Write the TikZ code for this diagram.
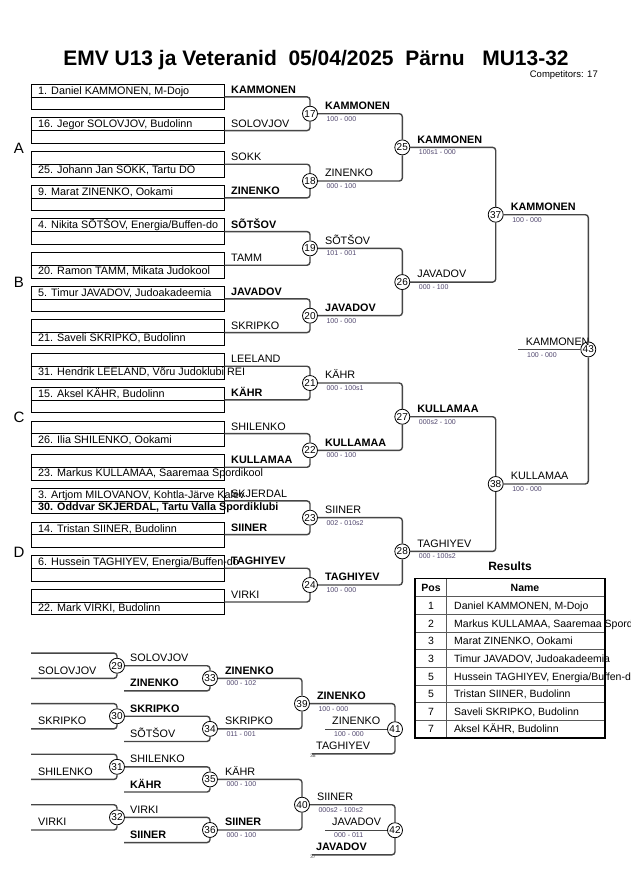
\documentclass[tikz,border=0pt]{standalone}
\usepackage{fontspec}
\setmainfont{Liberation Sans}
\usetikzlibrary{calc}
\definecolor{scorecol}{RGB}{80,70,110}
\definecolor{linecol}{RGB}{70,70,70}

\begin{document}
\begin{tikzpicture}[x=1pt,y=-1pt,
  bracket/.style={draw=linecol, line width=1.4pt, rounded corners=3pt},
  entrybox/.style={draw, line width=0.8pt, minimum width=193pt, minimum height=25.4pt, inner sep=0pt},
  match/.style={circle, draw, fill=white, line width=0.8pt, minimum size=15pt, inner sep=0pt, font=\fontsize{10}{10}\selectfont},
  lbl/.style={anchor=base west, inner sep=0pt, font=\fontsize{10.8}{12}\selectfont},
  scr/.style={anchor=base west, inner sep=0pt, text=scorecol, font=\fontsize{7}{8}\selectfont},
  tiny/.style={anchor=base west, inner sep=0pt, text=black!70, font=\fontsize{5}{5}\selectfont}]
\clip (0,0) rectangle (630,891);
\fill[white] (0,0) rectangle (630,891);

\node[anchor=base, inner sep=0pt, font=\fontsize{21}{24}\bfseries] (title) at (316,66) {EMV U13 ja Veteranid\ \ 05/04/2025\ \ Pärnu\ \ \ MU13-32};
\node[anchor=base east, inner sep=0pt, font=\fontsize{9.5}{10}\selectfont] (comp) at (598,77.5) {Competitors: 17};

\foreach \g [count=\j from 0] in {A,B,C,D}
  \node[font=\fontsize{15}{18}\selectfont] (pool\g) at (19,{147.9+134.67*\j}) {\g};

\foreach \k in {17,...,24} \node[match] (m\k) at (310,{113.7+67.33*(\k-17)}) {\k};
\foreach \k in {25,...,28} \node[match] (m\k) at (402.3,{147.4+134.67*(\k-25)}) {\k};
\node[match] (m37) at (495.7,214.7) {37};
\node[match] (m38) at (495.7,484) {38};
\node[match] (m43) at (588.3,349.4) {43};
\foreach \k in {29,...,32} \node[match] (m\k) at (117,{665.7+50.55*(\k-29)}) {\k};
\foreach \k in {33,...,36} \node[match] (m\k) at (210,{678.3+50.55*(\k-33)}) {\k};
\node[match] (m39) at (302,703.6) {39};
\node[match] (m40) at (302,804.7) {40};
\node[match] (m41) at (395,729.2) {41};
\node[match] (m42) at (395,830.2) {42};

\foreach \i/\up/\dn/\lab in {
  1/{1. Daniel KAMMONEN, M-Dojo}/{}/{\textbf{KAMMONEN}},
  2/{16. Jegor SOLOVJOV, Budolinn}/{}/{SOLOVJOV},
  3/{}/{25. Johann Jan SOKK, Tartu DO}/{SOKK},
  4/{9. Marat ZINENKO, Ookami}/{}/{\textbf{ZINENKO}},
  5/{4. Nikita SÕTŠOV, Energia/Buffen-do}/{}/{\textbf{SÕTŠOV}},
  6/{}/{20. Ramon TAMM, Mikata Judokool}/{TAMM},
  7/{5. Timur JAVADOV, Judoakadeemia}/{}/{\textbf{JAVADOV}},
  8/{}/{21. Saveli SKRIPKO, Budolinn}/{SKRIPKO},
  9/{}/{31. Hendrik LEELAND, Võru Judoklubi REI}/{LEELAND},
  10/{15. Aksel KÄHR, Budolinn}/{}/{\textbf{KÄHR}},
  11/{}/{26. Ilia SHILENKO, Ookami}/{SHILENKO},
  12/{}/{23. Markus KULLAMAA, Saaremaa Spordikool}/{\textbf{KULLAMAA}},
  13/{3. Artjom MILOVANOV, Kohtla-Järve Kalev}/{\textbf{30. Oddvar SKJERDAL, Tartu Valla Spordiklubi}}/{SKJERDAL},
  14/{14. Tristan SIINER, Budolinn}/{}/{\textbf{SIINER}},
  15/{6. Hussein TAGHIYEV, Energia/Buffen-do}/{}/{\textbf{TAGHIYEV}},
  16/{}/{22. Mark VIRKI, Budolinn}/{VIRKI}}{
  \pgfmathsetmacro\ym{96.9+33.67*(\i-1)}
  \pgfmathtruncatemacro\k{16+(\i+1)/2}
  \ifodd\i \def\sd{north}\else\def\sd{south}\fi
  \node[entrybox] (e\i) at (127.5,\ym) {};
  \draw[line width=0.8pt] (e\i.west) -- (e\i.east);
  \draw[bracket] (e\i.east) -| (m\k.\sd);
  \node[lbl] (u\i) at (38,\ym-2.6) {\up};
  \node[lbl] (d\i) at (38,\ym+9.4) {\dn};
  \node[lbl] (w\i) at (231,\ym-3.5) {\lab};
}

\foreach \k/\n/\sd/\lab/\rs in {
  17/25/north/{\textbf{KAMMONEN}}/{100 - 000},
  18/25/south/{ZINENKO}/{000 - 100},
  19/26/north/{SÕTŠOV}/{101 - 001},
  20/26/south/{\textbf{JAVADOV}}/{100 - 000},
  21/27/north/{KÄHR}/{000 - 100s1},
  22/27/south/{\textbf{KULLAMAA}}/{000 - 100},
  23/28/north/{SIINER}/{002 - 010s2},
  24/28/south/{\textbf{TAGHIYEV}}/{100 - 000},
  25/37/north/{\textbf{KAMMONEN}}/{100s1 - 000},
  26/37/south/{JAVADOV}/{000 - 100},
  27/38/north/{\textbf{KULLAMAA}}/{000s2 - 100},
  28/38/south/{TAGHIYEV}/{000 - 100s2},
  37/43/north/{\textbf{KAMMONEN}}/{100 - 000},
  38/43/south/{KULLAMAA}/{100 - 000},
  33/39/north/{\textbf{ZINENKO}}/{000 - 102},
  34/39/south/{SKRIPKO}/{011 - 001},
  35/40/north/{KÄHR}/{000 - 100},
  36/40/south/{\textbf{SIINER}}/{000 - 100},
  39/41/north/{\textbf{ZINENKO}}/{100 - 000},
  40/42/north/{SIINER}/{000s2 - 100s2}}{
  \draw[bracket] (m\k.east) -| (m\n.\sd);
  \node[lbl] (t\k) at ($(m\k.east)+(7,-4.3)$) {\lab};
  \node[scr] (r\k) at ($(m\k.east)+(8.5,7.5)$) {\rs};
}

\coordinate (f0) at (518,349.4);
\draw[bracket] (f0) -- (m43.west);
\node[lbl] (t43) at (525.7,345) {KAMMONEN};
\node[scr] (r43) at (527,357.2) {100 - 000};

\foreach \k/\n/\la/\lb/\lc in {
  29/33/{SOLOVJOV}/{SOLOVJOV}/{\textbf{ZINENKO}},
  30/34/{SKRIPKO}/{\textbf{SKRIPKO}}/{SÕTŠOV},
  31/35/{SHILENKO}/{SHILENKO}/{\textbf{KÄHR}},
  32/36/{VIRKI}/{VIRKI}/{\textbf{SIINER}}}{
  \coordinate (a\k) at ($(m\k)+(-86,-12.6)$);
  \coordinate (b\k) at ($(m\k)+(-86,12.6)$);
  \coordinate (c\n) at ($(m\n)+(-86,12.6)$);
  \draw[bracket] (a\k) -| (m\k.north);
  \draw[bracket] (b\k) -| (m\k.south);
  \draw[bracket] (m\k.east) -| (m\n.north);
  \draw[bracket] (c\n) -| (m\n.south);
  \node[lbl] (la\k) at ($(b\k)+(7,-4)$) {\la};
  \node[lbl] (lb\k) at ($(m\k)+(13,-4)$) {\lb};
  \node[lbl] (lc\k) at ($(c\n)+(6,-4)$) {\lc};
}

\foreach \k/\rk/\lab/\rs/\lbot in {
  41/38/{ZINENKO}/{100 - 000}/{TAGHIYEV},
  42/37/{JAVADOV}/{000 - 011}/{\textbf{JAVADOV}}}{
  \coordinate (h\k) at ($(m\k)+(-70,0)$);
  \coordinate (g\k) at ($(m\k)+(-83,24.6)$);
  \draw[bracket] (h\k) -- (m\k.west);
  \draw[bracket] (g\k) -| (m\k.south);
  \node[lbl] (ih\k) at ($(h\k)+(7,-5)$) {\lab};
  \node[scr] (is\k) at ($(h\k)+(9,7.2)$) {\rs};
  \node[lbl] (ib\k) at ($(g\k)+(4,-4)$) {\lbot};
  \node[tiny] (rk\k) at ($(g\k)+(-2,4)$) {\rk};
}

\node[anchor=base, inner sep=0pt, font=\fontsize{12}{14}\bfseries] (results) at (510,570) {Results};
\draw[gray!70!black, line width=0.9pt] (415,596.8) -- (605,596.8);
\draw[gray!70!black, line width=0.9pt] (446,578.5) -- (446,738);
\node[anchor=base, inner sep=0pt, font=\fontsize{10.5}{12}\bfseries] (hpos) at (431,591.6) {Pos};
\node[anchor=base, inner sep=0pt, font=\fontsize{10.5}{12}\bfseries] (hname) at (525,591.6) {Name};
\foreach \rw/\p/\nm in {
  1/1/{Daniel KAMMONEN, M-Dojo},
  2/2/{Markus KULLAMAA, Saaremaa Spordikool},
  3/3/{Marat ZINENKO, Ookami},
  4/3/{Timur JAVADOV, Judoakadeemia},
  5/5/{Hussein TAGHIYEV, Energia/Buffen-do},
  6/5/{Tristan SIINER, Budolinn},
  7/7/{Saveli SKRIPKO, Budolinn},
  8/7/{Aksel KÄHR, Budolinn}}{
  \pgfmathsetmacro\yb{596.8+17.66*\rw}
  \draw[gray!70!black, line width=0.9pt] (415,\yb) -- (605,\yb);
  \node[anchor=base, inner sep=0pt, font=\fontsize{10.5}{12}\selectfont] (pos\rw) at (431,\yb-5.1) {\p};
  \node[lbl, font=\fontsize{10.5}{12}\selectfont] (nam\rw) at (454,\yb-5.1) {\nm};
}
\draw[line width=1.6pt] (415,578.5) rectangle (605,738);
\end{tikzpicture}
\end{document}
